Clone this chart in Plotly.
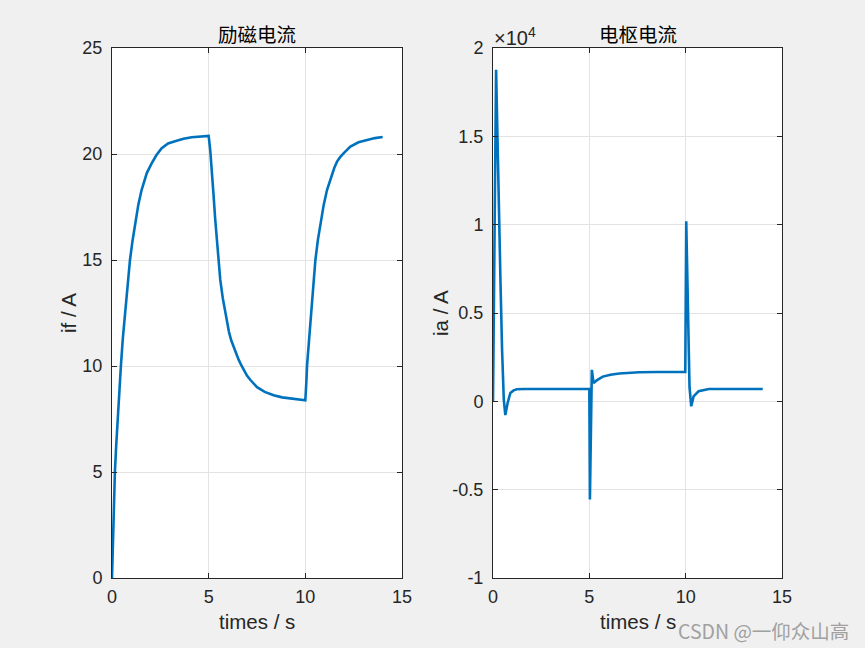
import plotly.graph_objects as go

# ---- data ----
t_if = [0, 0.05, 0.1, 0.15, 0.22, 0.29, 0.37, 0.46, 0.56, 0.67, 0.8, 0.93, 1.06, 1.19, 1.36, 1.53, 1.66, 1.8,
        2.05, 2.3, 2.57, 2.9, 3.26, 3.7, 4.12, 4.6, 5.0,
        5.08, 5.17, 5.25, 5.34, 5.47, 5.6, 5.73, 5.86, 6.05, 6.17, 6.29, 6.42, 6.55, 6.68, 6.81, 6.98, 7.15,
        7.32, 7.5, 7.9, 8.36, 8.8, 9.22, 9.6, 10.0,
        10.05, 10.09, 10.2, 10.3, 10.41, 10.52, 10.65, 10.78, 10.95, 11.12, 11.35, 11.5, 11.64, 11.8, 12.0,
        12.33, 12.75, 13.19, 13.6, 14.0]
i_f = [0, 1.8, 3.4, 5.0, 6.3, 7.5, 8.8, 10.0, 11.3, 12.5, 13.8, 15.0, 15.9, 16.7, 17.6, 18.3, 18.75, 19.1,
       19.56, 19.95, 20.27, 20.5, 20.6, 20.72, 20.79, 20.83, 20.85,
       20.2, 19.25, 18.1, 16.9, 15.4, 14.06, 13.2, 12.47, 11.6, 11.2, 10.9, 10.6, 10.3, 10.05, 9.8, 9.55, 9.35,
       9.17, 9.0, 8.78, 8.62, 8.52, 8.46, 8.42, 8.38,
       9.2, 10.03, 11.3, 12.5, 13.8, 15.0, 15.95, 16.73, 17.6, 18.3, 19.0, 19.35, 19.64, 19.85, 20.05,
       20.35, 20.55, 20.66, 20.75, 20.8]

t_ia = [0, 0.08, 0.12, 0.16, 0.21, 0.3, 0.39, 0.47, 0.56, 0.64, 0.76, 0.9, 1.07, 1.24, 1.6, 2.5, 5.0,
        5.03, 5.13, 5.22, 5.4, 5.7, 6.1, 6.55, 7.0, 7.58, 8.5, 9.98,
        10.03, 10.12, 10.2, 10.29, 10.41, 10.67, 11.0, 11.2, 12.0, 14.0]
i_a = [0, 9500, 15500, 18770, 16100, 10470, 6700, 2930, 100, -780, -90, 470, 620, 680, 700, 700, 700,
       -5550, 1780, 1040, 1200, 1400, 1510, 1580, 1620, 1645, 1660, 1660,
       10190, 3870, 800, -280, 280, 570, 670, 695, 700, 700]

x_ticks = [0, 5, 10, 15]
if_ticks = [0, 5, 10, 15, 20, 25]
ia_ticks = [-10000, -5000, 0, 5000, 10000, 15000, 20000]
ia_ticklabels = ["-1", "-0.5", "0", "0.5", "1", "1.5", "2"]

titles = ["励磁电流", "电枢电流"]
xlabel = "times / s"
ylabels = ["if / A", "ia / A"]

W, H = 865, 648
LINE = "#0072BD"
AX = "#262626"
FONT = "Liberation Sans, Arial, sans-serif"
CJK = "Noto Sans CJK SC"

fig = go.Figure()
fig.add_trace(go.Scatter(x=t_if, y=i_f, mode="lines", line=dict(color=LINE, width=2.6),
                         xaxis="x", yaxis="y", showlegend=False))
fig.add_trace(go.Scatter(x=t_ia, y=i_a, mode="lines", line=dict(color=LINE, width=2.6),
                         xaxis="x2", yaxis="y2", showlegend=False))

L1, R1 = 112 / W, 402 / W
L2, R2 = 493 / W, 782 / W
B, T = (H - 578) / H, (H - 48) / H

common = dict(showline=True, linecolor=AX, linewidth=1, mirror="ticks", ticks="inside",
              ticklen=5, tickcolor=AX, tickwidth=1, showgrid=True, gridcolor="#e3e3e3",
              gridwidth=1, zeroline=False, automargin=False,
              tickfont=dict(family=FONT, size=18, color=AX))

fig.update_layout(
    width=W, height=H, autosize=False, margin=dict(l=0, r=0, t=0, b=0, pad=0),
    paper_bgcolor="#f0f0f0", plot_bgcolor="white",
    xaxis=dict(domain=[L1, R1], range=[0, 15], tickvals=x_ticks, anchor="y", ticklabelstandoff=2, **common),
    yaxis=dict(domain=[B, T], range=[0, 25], tickvals=if_ticks, anchor="x", ticklabelstandoff=5, **common),
    xaxis2=dict(domain=[L2, R2], range=[0, 15], tickvals=x_ticks, anchor="y2", ticklabelstandoff=2, **common),
    yaxis2=dict(domain=[B, T], range=[-10000, 20000], tickvals=ia_ticks, ticktext=ia_ticklabels,
                anchor="x2", ticklabelstandoff=5, **common),
)

ann = []
for i, (l, r) in enumerate([(L1, R1), (L2, R2)]):
    cx = (l + r) / 2
    ann.append(dict(text=titles[i], x=cx, y=1 - 33 / H, xref="paper", yref="paper",
                    xanchor="center", yanchor="middle", showarrow=False,
                    font=dict(family=CJK, size=19.5, color="#000000")))
    ann.append(dict(text=xlabel, x=cx, y=1 - 621 / H, xref="paper", yref="paper",
                    xanchor="center", yanchor="middle", showarrow=False,
                    font=dict(family=FONT, size=20.5, color=AX)))
ann.append(dict(text=ylabels[0], x=68 / W, y=1 - 313 / H, xref="paper", yref="paper",
                xanchor="center", yanchor="middle", showarrow=False, textangle=-90,
                font=dict(family=FONT, size=20.5, color=AX)))
ann.append(dict(text=ylabels[1], x=440 / W, y=1 - 313 / H, xref="paper", yref="paper",
                xanchor="center", yanchor="middle", showarrow=False, textangle=-90,
                font=dict(family=FONT, size=20.5, color=AX)))
ann.append(dict(text="×10<sup>4</sup>", x=492 / W, y=1 - 51 / H, xref="paper", yref="paper",
                xanchor="left", yanchor="bottom", showarrow=False,
                font=dict(family=FONT, size=20, color=AX)))
ann.append(dict(text="CSDN @一仰众山高", x=851 / W, y=1 - 630 / H, xref="paper", yref="paper",
                xanchor="right", yanchor="middle", showarrow=False,
                font=dict(family=CJK, size=19.5, color="#a0a0a0")))
fig.update_layout(annotations=ann)

post = ("document.body.style.margin='0';document.body.style.padding='0';"
        "document.body.style.overflow='hidden';document.documentElement.style.overflow='hidden';")
fig.write_html("out.html", post_script=post, config={"responsive": False, "displayModeBar": False})
